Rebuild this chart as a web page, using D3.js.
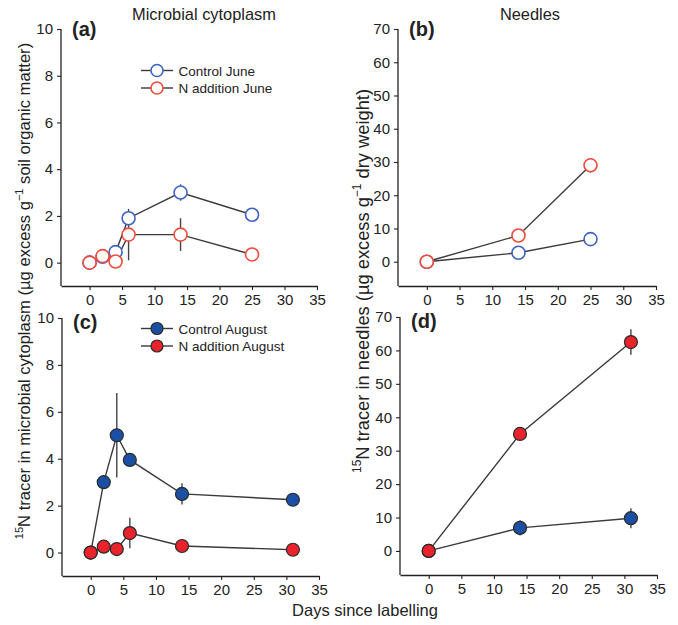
<!DOCTYPE html>
<html>
<head>
<meta charset="utf-8">
<script src="https://cdn.jsdelivr.net/npm/d3@7"></script>
<style>
  body { margin: 0; background: #fff; }
  svg { display: block; font-family: "Liberation Sans", Arial, sans-serif; }
</style>
</head>
<body>
<svg id="chart"></svg>
<script>
// ---- data ----
var xTicks = [0, 5, 10, 15, 20, 25, 30, 35];
var microbeTicks = [0, 2, 4, 6, 8, 10];
var needleTicks = [0, 10, 20, 30, 40, 50, 60, 70];

var juneMicrobeDays = [0, 2, 4, 6, 14, 25];
var controlJuneMicrobe = [0, 0.25, 0.45, 1.9, 3.0, 2.05];
var controlJuneMicrobeErr = [0, 0, 0, 0.3, 0.35, 0];
var nAddJuneMicrobe = [0, 0.28, 0.05, 1.2, 1.2, 0.35];
var nAddJuneMicrobeErr = [0, 0, 0, 1.1, 0.7, 0];

var juneNeedleDays = [0, 14, 25];
var controlJuneNeedle = [0, 2.7, 6.8];
var controlJuneNeedleErr = [0, 0.5, 0.8];
var nAddJuneNeedle = [0, 7.9, 29];
var nAddJuneNeedleErr = [0, 0.8, 2.2];

var augMicrobeDays = [0, 2, 4, 6, 14, 31];
var controlAugMicrobe = [0, 3.0, 5.0, 3.95, 2.5, 2.25];
var controlAugMicrobeErr = [0, 0, 1.8, 0, 0.45, 0];
var nAddAugMicrobe = [0, 0.25, 0.15, 0.83, 0.28, 0.12];
var nAddAugMicrobeErr = [0, 0, 0, 0.65, 0, 0];

var augNeedleDays = [0, 14, 31];
var controlAugNeedle = [0, 6.9, 9.8];
var controlAugNeedleErr = [0, 2.3, 3];
var nAddAugNeedle = [0, 35, 62.5];
var nAddAugNeedleErr = [0, 1, 3.8];

var colours = {
  openBlue: "#3d64c4",
  openRed: "#f04b3b",
  fillBlue: "#1b4fa3",
  fillRed: "#e8232b"
};

var svg = d3.select("#chart").attr("width", 678).attr("height", 625);

function zip(days, vals, errs) {
  return days.map(function(d, i) {
    return { day: d, value: vals[i], err: errs[i] };
  });
}

var panels = [
  { tag: "(a)", left: 61, right: 317, top: 29, bottom: 286, ymin: -1, ymax: 10, ticks: microbeTicks,
    filled: false, series: [
      { data: zip(juneMicrobeDays, controlJuneMicrobe, controlJuneMicrobeErr), col: colours.openBlue },
      { data: zip(juneMicrobeDays, nAddJuneMicrobe, nAddJuneMicrobeErr), col: colours.openRed }
    ],
    legend: ["Control June", "N addition June"], legendY: 70.5 },
  { tag: "(b)", left: 398, right: 656, top: 29, bottom: 286, ymin: -7.3, ymax: 70, ticks: needleTicks,
    filled: false, series: [
      { data: zip(juneNeedleDays, controlJuneNeedle, controlJuneNeedleErr), col: colours.openBlue },
      { data: zip(juneNeedleDays, nAddJuneNeedle, nAddJuneNeedleErr), col: colours.openRed }
    ] },
  { tag: "(c)", left: 62, right: 319, top: 318, bottom: 576, ymin: -1, ymax: 10, ticks: microbeTicks,
    filled: true, series: [
      { data: zip(augMicrobeDays, controlAugMicrobe, controlAugMicrobeErr), col: colours.fillBlue },
      { data: zip(augMicrobeDays, nAddAugMicrobe, nAddAugMicrobeErr), col: colours.fillRed }
    ],
    legend: ["Control August", "N addition August"], legendY: 328.5 },
  { tag: "(d)", left: 400, right: 657, top: 317, bottom: 575, ymin: -7.2, ymax: 70, ticks: needleTicks,
    filled: true, series: [
      { data: zip(augNeedleDays, controlAugNeedle, controlAugNeedleErr), col: colours.fillBlue },
      { data: zip(augNeedleDays, nAddAugNeedle, nAddAugNeedleErr), col: colours.fillRed }
    ] }
];

panels.forEach(function(p) {
  var x = d3.scaleLinear().domain([-4.4, 35]).range([p.left, p.right]);
  var y = d3.scaleLinear().domain([p.ymin, p.ymax]).range([p.bottom, p.top]);
  var g = svg.append("g");

  var xAxis = g.append("g")
    .attr("transform", "translate(0," + p.bottom + ")")
    .call(d3.axisBottom(x).tickValues(xTicks).tickSize(4).tickSizeOuter(0).tickPadding(4));
  var yAxis = g.append("g")
    .attr("transform", "translate(" + p.left + ",0)")
    .call(d3.axisLeft(y).tickValues(p.ticks).tickSize(4).tickSizeOuter(0).tickPadding(4));
  [xAxis, yAxis].forEach(function(a) {
    a.select(".domain").attr("stroke", "#222").attr("stroke-width", 1.3);
    a.selectAll(".tick line").attr("stroke", "#222").attr("stroke-width", 1.1);
    a.selectAll(".tick text").attr("fill", "#222")
      .style("font-size", "15px").style("font-family", "Liberation Sans, Arial, sans-serif");
  });
  // keep the y spine going all the way down to the x axis
  yAxis.select(".domain").attr("d", "M0," + y(p.ymax) + "V" + p.bottom);

  var line = d3.line().x(function(d) { return x(d.day); }).y(function(d) { return y(d.value); });

  p.series.forEach(function(s) {
    g.append("path").datum(s.data)
      .attr("d", line).attr("fill", "none")
      .attr("stroke", "#3a3a3a").attr("stroke-width", 1.4);
  });
  p.series.forEach(function(s) {
    g.selectAll(null).data(s.data.filter(function(d) { return d.err > 0; }))
      .enter().append("line")
      .attr("x1", function(d) { return x(d.day); })
      .attr("x2", function(d) { return x(d.day); })
      .attr("y1", function(d) { return y(d.value - d.err); })
      .attr("y2", function(d) { return y(d.value + d.err); })
      .attr("stroke", "#444").attr("stroke-width", 1.4);
  });
  p.series.forEach(function(s) {
    g.selectAll(null).data(s.data)
      .enter().append("circle")
      .attr("cx", function(d) { return x(d.day); })
      .attr("cy", function(d) { return y(d.value); })
      .attr("r", 6.5)
      .attr("fill", p.filled ? s.col : "#fff")
      .attr("stroke", p.filled ? "#2a2a2a" : s.col)
      .attr("stroke-width", p.filled ? 1.2 : 1.6);
  });

  g.append("text")
    .attr("x", p.left + 11).attr("y", p.top + (p.filled ? 11 : 7))
    .style("font-size", "20px").style("font-weight", "bold").attr("fill", "#222")
    .text(p.tag);

  if (p.legend) {
    p.legend.forEach(function(label, i) {
      var ly = p.legendY + i * 17.5;
      var s = p.series[i];
      g.append("line").attr("x1", 141).attr("x2", 173).attr("y1", ly).attr("y2", ly)
        .attr("stroke", "#3a3a3a").attr("stroke-width", 1.4);
      g.append("circle").attr("cx", 157).attr("cy", ly).attr("r", 6)
        .attr("fill", p.filled ? s.col : "#fff")
        .attr("stroke", p.filled ? "#2a2a2a" : s.col)
        .attr("stroke-width", p.filled ? 1.2 : 1.6);
      g.append("text").attr("x", 178.5).attr("y", ly + 5)
        .style("font-size", "13.5px").attr("fill", "#222").text(label);
    });
  }
});

// column titles
svg.append("text").attr("x", 204).attr("y", 20).attr("text-anchor", "middle")
  .style("font-size", "16.4px").attr("fill", "#222").text("Microbial cytoplasm");
svg.append("text").attr("x", 530).attr("y", 20).attr("text-anchor", "middle")
  .style("font-size", "16.4px").attr("fill", "#222").text("Needles");

// shared x label
svg.append("text").attr("x", 365).attr("y", 616).attr("text-anchor", "middle")
  .style("font-size", "16.5px").attr("fill", "#222").text("Days since labelling");

// y labels with superscripts
function yLabel(cx, cy, size, before, after) {
  var sup = Math.round(size * 0.68);
  var shift = Math.round(size * 0.42);
  var t = svg.append("text")
    .attr("transform", "translate(" + cx + "," + cy + ") rotate(-90)")
    .attr("text-anchor", "middle")
    .style("font-size", size + "px").attr("fill", "#222");
  t.append("tspan").attr("dy", -shift).style("font-size", sup + "px").text("15");
  t.append("tspan").attr("dy", shift).text("N tracer in " + before + " (\u00b5g excess g");
  t.append("tspan").attr("dy", -shift).style("font-size", sup + "px").text("\u22121");
  t.append("tspan").attr("dy", shift).text(" " + after + ")");
}
yLabel(30, 291, 16.6, "microbial cytoplasm", "soil organic matter");
yLabel(369, 281, 18.3, "needles", "dry weight");
</script>
</body>
</html>
